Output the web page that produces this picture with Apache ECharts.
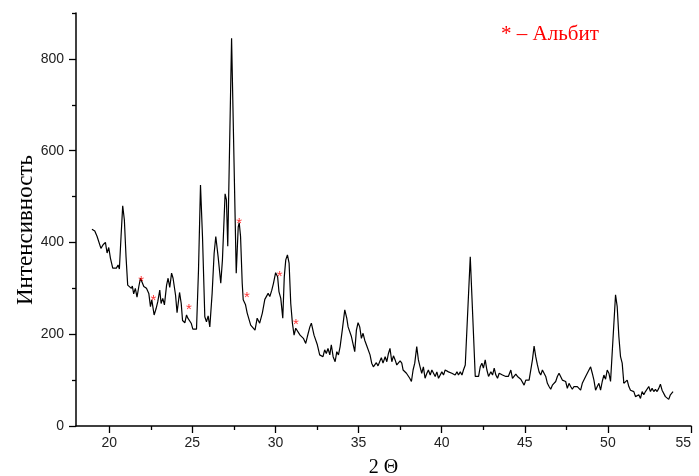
<!DOCTYPE html>
<html>
<head>
<meta charset="utf-8">
<script src="https://cdn.jsdelivr.net/npm/echarts@6/dist/echarts.min.js"></script>
<style>
html, body { margin: 0; padding: 0; background: #fff; }
#main { width: 699px; height: 476px; }
</style>
</head>
<body>
<div id="main"></div>
<script>
// 2θ positions and intensities
const twoTheta = [
  18.96, 19.13, 19.27, 19.37, 19.50, 19.63, 19.77, 19.87, 19.97, 20.07,
  20.21, 20.31, 20.43, 20.53, 20.61, 20.71, 20.81, 20.91, 21.01, 21.11,
  21.23, 21.33, 21.39, 21.47, 21.57, 21.67, 21.78, 21.88, 21.97, 22.08,
  22.24, 22.38, 22.48, 22.56, 22.70, 22.82, 22.92, 23.04, 23.12, 23.22,
  23.32, 23.45, 23.54, 23.64, 23.75, 23.84, 23.99, 24.08, 24.23, 24.33,
  24.41, 24.55, 24.65, 24.73, 24.85, 24.93, 25.03, 25.15, 25.25, 25.37,
  25.49, 25.61, 25.75, 25.85, 25.95, 26.05, 26.19, 26.31, 26.41, 26.55,
  26.71, 26.81, 26.97, 27.05, 27.13, 27.36, 27.64, 27.76, 27.82, 27.90,
  28.00, 28.06, 28.20, 28.30, 28.40, 28.51, 28.60, 28.77, 28.90, 29.05,
  29.21, 29.36, 29.45, 29.56, 29.66, 29.78, 29.88, 30.01, 30.13, 30.21,
  30.32, 30.44, 30.53, 30.62, 30.72, 30.82, 30.92, 31.02, 31.12, 31.22,
  31.32, 31.48, 31.56, 31.68, 31.82, 31.92, 32.07, 32.16, 32.32, 32.42,
  32.52, 32.66, 32.76, 32.86, 32.96, 33.06, 33.16, 33.27, 33.36, 33.47,
  33.59, 33.69, 33.79, 33.89, 34.02, 34.17, 34.29, 34.37, 34.47, 34.57,
  34.67, 34.77, 34.87, 34.97, 35.07, 35.17, 35.27, 35.37, 35.47, 35.59,
  35.69, 35.79, 35.89, 35.99, 36.07, 36.17, 36.27, 36.37, 36.47, 36.60,
  36.70, 36.79, 36.89, 37.00, 37.10, 37.20, 37.30, 37.40, 37.50, 37.60,
  37.68, 37.78, 37.88, 37.98, 38.08, 38.18, 38.28, 38.38, 38.50, 38.60,
  38.70, 38.80, 38.90, 39.00, 39.11, 39.20, 39.31, 39.41, 39.51, 39.61,
  39.71, 39.81, 39.91, 40.01, 40.11, 40.21, 40.31, 40.41, 40.51, 40.61,
  40.71, 40.81, 40.92, 41.01, 41.12, 41.22, 41.31, 41.42, 41.49, 41.72,
  42.02, 42.12, 42.22, 42.32, 42.42, 42.51, 42.62, 42.72, 42.82, 42.96,
  43.06, 43.16, 43.26, 43.36, 43.46, 43.56, 43.66, 43.76, 43.86, 44.01,
  44.16, 44.26, 44.36, 44.46, 44.56, 44.66, 44.76, 44.86, 44.96, 45.06,
  45.16, 45.26, 45.36, 45.46, 45.56, 45.66, 45.76, 45.86, 45.96, 46.06,
  46.16, 46.26, 46.36, 46.46, 46.56, 46.66, 46.76, 46.86, 46.96, 47.06,
  47.16, 47.26, 47.36, 47.46, 47.56, 47.66, 47.76, 47.86, 47.96, 48.06,
  48.16, 48.26, 48.36, 48.46, 48.56, 48.66, 48.76, 48.86, 48.96, 49.06,
  49.16, 49.26, 49.36, 49.46, 49.56, 49.66, 49.76, 49.86, 49.96, 50.06,
  50.16, 50.26, 50.46, 50.56, 50.66, 50.76, 50.86, 50.96, 51.06, 51.16,
  51.26, 51.36, 51.46, 51.56, 51.66, 51.76, 51.86, 51.96, 52.06, 52.16,
  52.26, 52.36, 52.46, 52.56, 52.66, 52.76, 52.86, 52.96, 53.06, 53.16,
  53.26, 53.36, 53.46, 53.56, 53.66, 53.76, 53.86, 53.92
];
const intensity = [
  429, 425, 413, 410, 387, 395, 400, 377, 389, 366,
  344, 347, 344, 351, 342, 413, 480, 449, 369, 307,
  304, 300, 305, 288, 300, 281, 304, 322, 318, 304,
  300, 289, 260, 275, 242, 256, 271, 296, 267, 278,
  264, 307, 322, 302, 333, 322, 285, 247, 291, 267,
  230, 225, 242, 235, 238, 224, 211, 213, 211, 340,
  525, 413, 238, 227, 240, 216, 289, 376, 413, 369,
  311, 362, 506, 493, 392, 845, 333, 434, 443, 413,
  311, 275, 264, 246, 247, 220, 224, 209, 235, 224,
  246, 276, 275, 289, 282, 296, 311, 334, 325, 293,
  278, 235, 325, 362, 373, 355, 267, 224, 198, 213,
  213, 198, 202, 191, 180, 195, 216, 224, 198, 195,
  177, 155, 158, 151, 166, 158, 169, 155, 177, 151,
  140, 162, 155, 173, 209, 253, 235, 216, 220, 195,
  191, 162, 209, 225, 216, 191, 202, 187, 177, 180,
  155, 137, 129, 133, 138, 131, 140, 149, 137, 151,
  140, 157, 169, 140, 153, 144, 133, 137, 142, 137,
  122, 126, 115, 118, 104, 97, 122, 137, 173, 144,
  129, 115, 129, 104, 115, 122, 111, 122, 124, 108,
  118, 104, 108, 118, 111, 122, 126, 118, 122, 115,
  118, 111, 118, 111, 118, 111, 122, 133, 129, 369,
  108, 109, 108, 129, 137, 126, 144, 122, 108, 118,
  111, 126, 111, 104, 115, 116, 111, 115, 108, 108,
  122, 104, 108, 113, 108, 109, 102, 100, 89, 100,
  97, 100, 104, 144, 174, 151, 133, 118, 111, 122,
  118, 108, 93, 86, 80, 89, 86, 97, 108, 115,
  111, 100, 104, 97, 82, 93, 86, 80, 86, 89,
  86, 89, 78, 93, 97, 108, 115, 122, 129, 115,
  100, 78, 86, 93, 78, 97, 111, 102, 122, 115,
  97, 100, 286, 260, 195, 151, 137, 93, 97, 100,
  86, 78, 75, 75, 64, 64, 68, 60, 75, 68,
  75, 71, 86, 75, 82, 75, 80, 75, 82, 91,
  78, 75, 64, 65, 58, 68, 64, 75
];
// albite reflections marked with red asterisks
const albiteTheta = [21.92, 22.66, 24.79, 27.82, 28.28, 30.25, 31.23];
const albiteLevel = [323, 281, 262, 449, 287, 333, 229];

const xTicks = [20, 25, 30, 35, 40, 45, 50, 55];
const xMinorTicks = [22.5, 27.5, 32.5, 37.5, 42.5, 47.5, 52.5];
const yTicks = [0, 200, 400, 600, 800];
const yMinorTicks = [100, 300, 500, 700, 900];

const chart = echarts.init(document.getElementById('main'));

const lineData = twoTheta.map((t, i) => [t, intensity[i]]);
const starData = albiteTheta.map((t, i) => [t, albiteLevel[i]]);

const sansFont = 'Liberation Sans';
const serifFont = 'Liberation Serif';

const option = {
  animation: false,
  backgroundColor: '#fff',
  grid: { left: 76, right: 8, top: 13, bottom: 50, containLabel: false, outerBoundsMode: 'none' },
  xAxis: [{
    type: 'value',
    min: 18,
    max: 55,
    position: 'bottom',
    name: '2 Θ',
    nameLocation: 'middle',
    nameGap: 32,
    nameMoveOverlap: false,
    nameTextStyle: { fontFamily: serifFont, fontSize: 20, color: '#000' },
    axisLine: { show: true, lineStyle: { color: '#000', width: 1.5 } },
    axisTick: { show: true, customValues: xTicks, length: 7, lineStyle: { color: '#000', width: 1.3 } },
    axisLabel: {
      customValues: xTicks, showMinLabel: true, showMaxLabel: true, hideOverlap: false,
      alignMaxLabel: 'right',
      margin: 10, fontFamily: sansFont, fontSize: 14, color: '#222'
    },
    splitLine: { show: false }
  }, {
    type: 'value',
    min: 18,
    max: 55,
    position: 'bottom',
    axisLine: { show: false },
    axisTick: { show: true, customValues: xMinorTicks, length: 4, lineStyle: { color: '#000', width: 1.3 } },
    axisLabel: { show: false },
    splitLine: { show: false }
  }],
  yAxis: [{
    type: 'value',
    min: 0,
    max: 900,
    position: 'left',
    axisLine: { show: true, lineStyle: { color: '#000', width: 1.5 } },
    axisTick: { show: true, customValues: yTicks, length: 7, lineStyle: { color: '#000', width: 1.3 } },
    axisLabel: { customValues: yTicks, margin: 12, fontFamily: sansFont, fontSize: 14, color: '#222' },
    splitLine: { show: false }
  }, {
    type: 'value',
    min: 0,
    max: 900,
    position: 'left',
    axisLine: { show: false },
    axisTick: { show: true, customValues: yMinorTicks, length: 4, lineStyle: { color: '#000', width: 1.3 } },
    axisLabel: { show: false },
    splitLine: { show: false }
  }],
  graphic: [{
    type: 'text',
    x: 26,
    y: 230,
    rotation: Math.PI / 2,
    style: {
      text: 'Интенсивность',
      font: '23px "Liberation Serif"',
      fill: '#000',
      align: 'center',
      verticalAlign: 'middle'
    }
  }, {
    type: 'text',
    x: 501,
    y: 34,
    style: {
      text: '* – Альбит',
      font: '21px "Liberation Serif"',
      fill: '#ff0000',
      align: 'left',
      verticalAlign: 'middle'
    }
  }],
  series: [{
    type: 'line',
    xAxisIndex: 0,
    yAxisIndex: 0,
    data: lineData,
    showSymbol: false,
    smooth: false,
    lineStyle: { color: '#000', width: 1.2 },
    z: 2
  }, {
    type: 'scatter',
    xAxisIndex: 0,
    yAxisIndex: 0,
    data: starData,
    symbolSize: 1,
    itemStyle: { color: 'rgba(0,0,0,0)' },
    label: {
      show: true,
      position: 'inside',
      formatter: '*',
      offset: [0, 4],
      color: '#ff0000',
      fontFamily: sansFont,
      fontSize: 15
    },
    z: 3
  }]
};

chart.setOption(option);
</script>
</body>
</html>
